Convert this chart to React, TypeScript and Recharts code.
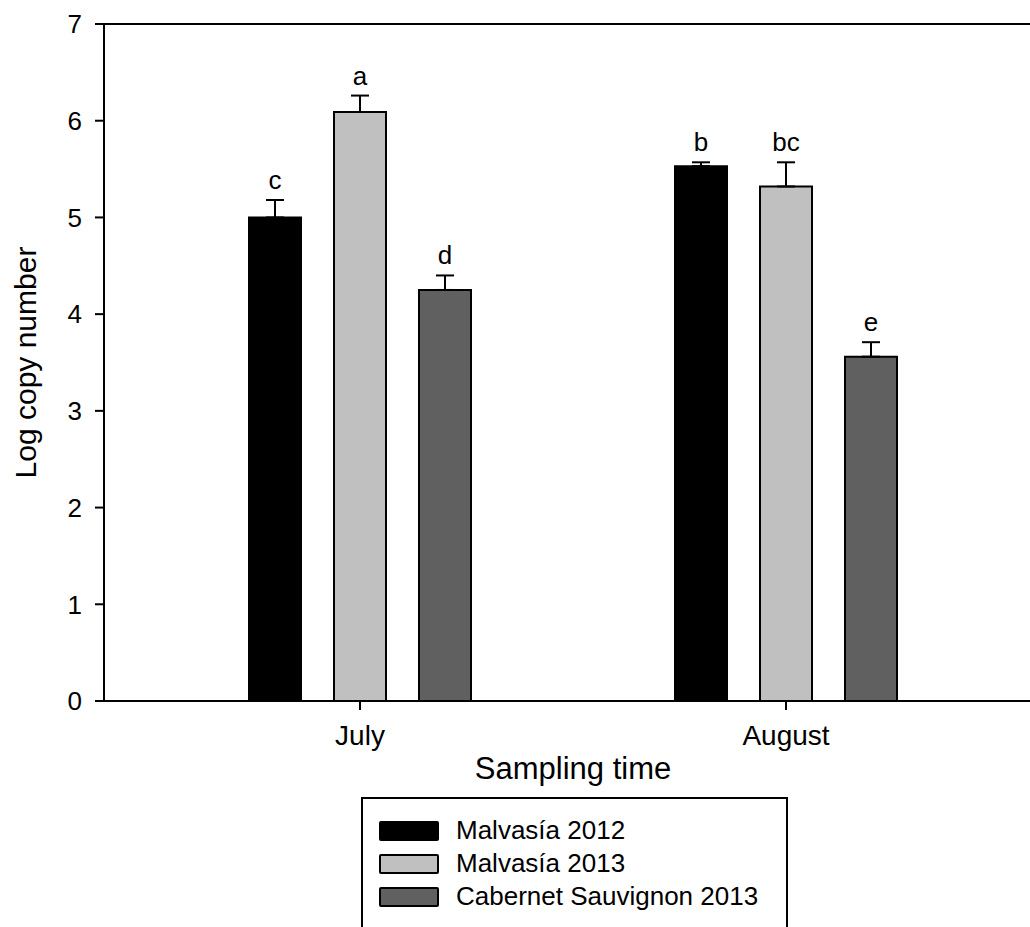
import React from 'react';
import { BarChart, Bar, XAxis, YAxis, ErrorBar, LabelList, Legend, ReferenceLine } from 'recharts';

// Datos
const months = ['July', 'August'];
const seriesNames = ['Malvasía 2012', 'Malvasía 2013', 'Cabernet Sauvignon 2013'];
const malvasia2012 = [5.0, 5.53];
const malvasia2013 = [6.09, 5.32];
const cabernet2013 = [4.25, 3.56];
const malvasia2012Err = [0.18, 0.04];
const malvasia2013Err = [0.17, 0.25];
const cabernet2013Err = [0.15, 0.15];
const malvasia2012Letters = ['c', 'b'];
const malvasia2013Letters = ['a', 'bc'];
const cabernet2013Letters = ['d', 'e'];
const yTicks = [0, 1, 2, 3, 4, 5, 6, 7];

const FONT = "'Liberation Sans', Arial, Helvetica, sans-serif";
const PAD_LEFT = 43;
const PAD_RIGHT = 31;

const data = months.map((m, i) => ({
    month: m,
    m12: malvasia2012[i],
    m13: malvasia2013[i],
    cs13: cabernet2013[i],
    m12Err: [0, malvasia2012Err[i]],
    m13Err: [0, malvasia2013Err[i]],
    cs13Err: [0, cabernet2013Err[i]],
}));

// letra de significancia encima de la barra de error
const letterLabel = (values: number[], errs: number[], letters: string[]) => (props: any) => {
    const vb = props.viewBox ?? props;
    const i = props.index;
    const pxPerUnit = vb.height / values[i];
    const top = vb.y - errs[i] * pxPerUnit;
    return (
        <text x={vb.x + vb.width / 2} y={top - 11} textAnchor="middle" fontSize={26} fontFamily={FONT} fill="#000">
            {letters[i]}
        </text>
    );
};

const yTitle = (props: any) => {
    const vb = props.viewBox;
    const x = vb.x + 36;
    const y = vb.y + vb.height / 2;
    return (
        <text x={x} y={y} transform={`rotate(-90 ${x} ${y})`} textAnchor="middle" fontSize={30} fontFamily={FONT} fill="#000">
            Log copy number
        </text>
    );
};

const xTitle = (props: any) => {
    const vb = props.viewBox;
    const x = vb.x + PAD_LEFT + (vb.width - PAD_LEFT - PAD_RIGHT) / 2;
    return (
        <text x={x} y={vb.y + 78} textAnchor="middle" fontSize={31} fontFamily={FONT} fill="#000">
            Sampling time
        </text>
    );
};

const renderLegend = (props: any) => {
    const payload = [...(props.payload ?? [])].sort(
        (a: any, b: any) => seriesNames.indexOf(a.value) - seriesNames.indexOf(b.value)
    );
    return (
        <div
            style={{
                boxSizing: 'border-box',
                width: 427,
                height: 160,
                border: '2px solid #000',
                background: '#fff',
                paddingTop: 15,
                paddingLeft: 16,
                fontFamily: FONT,
            }}
        >
            {payload.map((entry: any) => (
                <div key={entry.value} style={{ display: 'flex', alignItems: 'center', height: 33 }}>
                    <div
                        style={{
                            boxSizing: 'border-box',
                            width: 60,
                            height: 20,
                            border: '2px solid #000',
                            borderRadius: 2,
                            background: entry.color,
                            marginRight: 17,
                        }}
                    />
                    <span style={{ fontSize: 26, lineHeight: '33px', color: '#000' }}>{entry.value}</span>
                </div>
            ))}
        </div>
    );
};

export default function App() {
    return (
        <div style={{ position: 'absolute', left: 0, top: 0, width: 1030, height: 927, overflow: 'hidden', background: '#fff' }}>
            <BarChart
                width={1030}
                height={927}
                data={data}
                margin={{ top: 24, right: 0, bottom: 146, left: 0 }}
                barSize={52}
                barGap={33}
                style={{ fontFamily: FONT }}
            >
                <XAxis
                    dataKey="month"
                    padding={{ left: PAD_LEFT, right: PAD_RIGHT }}
                    height={80}
                    tickSize={9}
                    tickMargin={15}
                    axisLine={{ stroke: '#000', strokeWidth: 2 }}
                    tickLine={{ stroke: '#000', strokeWidth: 2 }}
                    tick={{ fill: '#000', fontSize: 28, fontFamily: FONT }}
                    label={xTitle}
                />
                <YAxis
                    domain={[0, 7]}
                    ticks={yTicks}
                    interval={0}
                    width={104}
                    tickSize={9}
                    tickMargin={13}
                    axisLine={{ stroke: '#000', strokeWidth: 2 }}
                    tickLine={{ stroke: '#000', strokeWidth: 2 }}
                    tick={{ fill: '#000', fontSize: 26, fontFamily: FONT }}
                    label={yTitle}
                />
                <ReferenceLine y={7} stroke="#000" strokeWidth={2} />
                <Legend
                    layout="vertical"
                    align="center"
                    verticalAlign="middle"
                    content={renderLegend}
                    wrapperStyle={{ left: 361, top: 797 }}
                />
                <Bar dataKey="m12" name={seriesNames[0]} fill="#000000" stroke="#000" strokeWidth={2} isAnimationActive={false}>
                    <ErrorBar dataKey="m12Err" direction="y" width={9} stroke="#000" strokeWidth={2} isAnimationActive={false} />
                    <LabelList dataKey="m12" content={letterLabel(malvasia2012, malvasia2012Err, malvasia2012Letters)} />
                </Bar>
                <Bar dataKey="m13" name={seriesNames[1]} fill="#c0c0c0" stroke="#000" strokeWidth={2} isAnimationActive={false}>
                    <ErrorBar dataKey="m13Err" direction="y" width={9} stroke="#000" strokeWidth={2} isAnimationActive={false} />
                    <LabelList dataKey="m13" content={letterLabel(malvasia2013, malvasia2013Err, malvasia2013Letters)} />
                </Bar>
                <Bar dataKey="cs13" name={seriesNames[2]} fill="#606060" stroke="#000" strokeWidth={2} isAnimationActive={false}>
                    <ErrorBar dataKey="cs13Err" direction="y" width={9} stroke="#000" strokeWidth={2} isAnimationActive={false} />
                    <LabelList dataKey="cs13" content={letterLabel(cabernet2013, cabernet2013Err, cabernet2013Letters)} />
                </Bar>
            </BarChart>
        </div>
    );
}
